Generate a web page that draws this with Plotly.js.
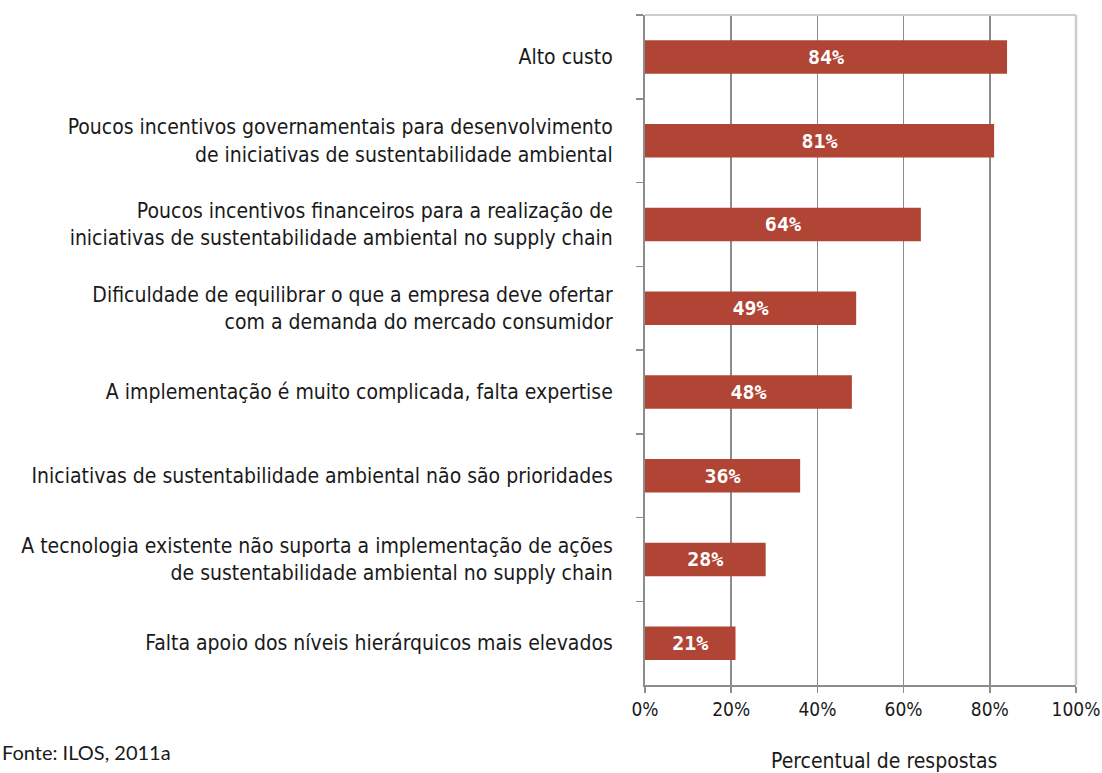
<!DOCTYPE html>
<html>
<head>
<meta charset="utf-8">
<script src="https://cdn.plot.ly/plotly-3.0.1.min.js"></script>
<style>html,body{margin:0;padding:0;background:#fff;}#chart{width:1102px;height:773px;}</style>
</head>
<body>
<div id="chart"></div>
<script>
const categories = [
  "Alto custo",
  "Poucos incentivos governamentais para desenvolvimento<br>de iniciativas de sustentabilidade ambiental",
  "Poucos incentivos financeiros para a realização de<br>iniciativas de sustentabilidade ambiental no supply chain",
  "Dificuldade de equilibrar o que a empresa deve ofertar<br>com a demanda do mercado consumidor",
  "A implementação é muito complicada, falta expertise",
  "Iniciativas de sustentabilidade ambiental não são prioridades",
  "A tecnologia existente não suporta a implementação de ações<br>de sustentabilidade ambiental no supply chain",
  "Falta apoio dos níveis hierárquicos mais elevados"
];
const values = [84, 81, 64, 49, 48, 36, 28, 21];
const xTickVals = [0, 20, 40, 60, 80, 100];
const xTickText = ["0%", "20%", "40%", "60%", "80%", "100%"];
const xTitle = "Percentual de respostas";
const sourceText = "Fonte: ILOS, 2011a";

const narrow = "'Liberation Sans Narrow', 'Arial Narrow', 'DejaVu Sans Condensed', sans-serif";

const trace = {
  type: "bar",
  orientation: "h",
  y: categories,
  x: values,
  text: values.map(v => v + "%"),
  texttemplate: "%{text}",
  textposition: "inside",
  insidetextanchor: "middle",
  textangle: 0,
  constraintext: "none",
  textfont: {family: "'DejaVu Sans Mono', monospace", size: 20, color: "#ffffff", weight: "bold"},
  marker: {color: "#b04535", line: {width: 0}},
  hoverinfo: "skip",
  showlegend: false
};

const layout = {
  width: 1102,
  height: 773,
  margin: {l: 645, r: 26, t: 15, b: 88, pad: 0},
  paper_bgcolor: "#ffffff",
  plot_bgcolor: "#ffffff",
  bargap: 0.6,
  font: {family: narrow, color: "#1a1a1a"},
  xaxis: {
    range: [0, 100],
    tickvals: xTickVals,
    ticktext: xTickText,
    ticks: "outside",
    ticklen: 6,
    tickcolor: "#8c8c8c",
    tickwidth: 1.5,
    showgrid: true,
    gridcolor: "#8c8c8c",
    gridwidth: 1.5,
    showline: true,
    linecolor: "#8c8c8c",
    linewidth: 2,
    zeroline: false,
    tickfont: {family: narrow, size: 19, color: "#1a1a1a"},
    fixedrange: true
  },
  yaxis: {
    type: "category",
    autorange: "reversed",
    tickson: "boundaries",
    ticks: "outside",
    ticklen: 7,
    tickcolor: "#8c8c8c",
    tickwidth: 1.5,
    showline: true,
    linecolor: "#8c8c8c",
    linewidth: 2,
    showgrid: false,
    zeroline: false,
    ticklabelstandoff: 26,
    tickfont: {family: narrow, size: 21, color: "#1a1a1a"},
    fixedrange: true
  },
  shapes: [
    {type: "line", xref: "paper", yref: "paper", x0: 0, x1: 1, y0: 1, y1: 1, line: {color: "#cccccc", width: 2}},
    {type: "line", xref: "paper", yref: "paper", x0: 1, x1: 1, y0: 0, y1: 1, line: {color: "#cccccc", width: 2.5}}
  ],
  annotations: [
    {text: xTitle, xref: "paper", yref: "paper", x: 0.555, y: -0.113, xanchor: "center", yanchor: "middle", showarrow: false,
     font: {family: narrow, size: 21, color: "#1a1a1a"}},
    {text: sourceText, xref: "paper", yref: "paper", x: -1.4965, y: -0.1, xanchor: "left", yanchor: "middle", showarrow: false,
     font: {family: "Lato, 'Open Sans', sans-serif", size: 20, color: "#1a1a1a"}}
  ]
};

Plotly.newPlot("chart", [trace], layout, {displayModeBar: false, staticPlot: true});
</script>
</body>
</html>
